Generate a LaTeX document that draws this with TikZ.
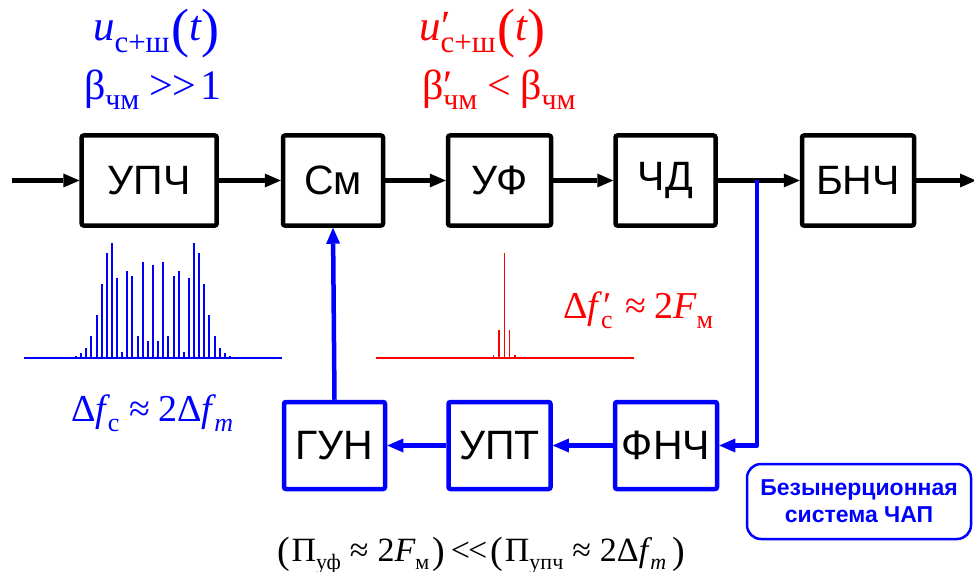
\documentclass[tikz,border=0pt]{standalone}
\usepackage{fontspec}
\setmainfont{Liberation Serif}
\newfontfamily\boxfont{Liberation Sans}
\usetikzlibrary{arrows.meta}
\newcommand\fs[1]{\fontsize{#1}{#1}\selectfont}
\tikzset{
  blk/.style={draw=black, line width=4.5pt, rounded corners=2pt, minimum height=90pt,
    inner sep=0pt, font=\boxfont\fs{41}},
  bblk/.style={blk, draw=blue, minimum height=87pt},
  arr/.style={line width=4.5pt, -{Triangle[length=16pt,width=14pt,line width=0pt]}},
  barr/.style={arr, draw=blue, line join=round},
  txt/.style={anchor=base west, inner sep=0pt, outer sep=0pt},
  specb/.style={draw=blue, line width=2pt},
  specr/.style={draw=red, line width=1.6pt},
}
\begin{document}
\begin{tikzpicture}[x=1pt,y=-1pt]
\useasboundingbox (0,0) rectangle (974,572);

% main chain
\node[blk, minimum width=135pt] (upc)  at (149.2,180.5) {УПЧ};
\node[blk, minimum width=100pt] (sm)   at (333,180.5) {См};
\node[blk, minimum width=103pt] (uf)   at (499.5,180.5) {УФ};
\node[blk, minimum width=100pt] (chd)  at (665.5,180.5) {ЧД};
\node[blk, minimum width=112pt] (bnch) at (858,180.5) {БНЧ};
\coordinate (in) at (12,180.5);
\coordinate (out) at (976,180.5);
\draw[arr] (in) -- (upc.west);
\draw[arr] (upc.east) -- (sm.west);
\draw[arr] (sm.east) -- (uf.west);
\draw[arr] (uf.east) -- (chd.west);
\draw[arr] (chd.east) -- (bnch.west);
\draw[arr] (bnch.east) -- (out);

% feedback loop
\node[bblk, minimum width=101pt] (gun)  at (334.5,445.5) {ГУН};
\node[bblk, minimum width=102pt] (upt)  at (499.5,445.5) {УПТ};
\node[bblk, minimum width=102pt] (fnch) at (666,445.5) {ФНЧ};
\coordinate (j) at (757,180.5);
\draw[barr] (j) |- (fnch.east);
\draw[barr] (fnch.west) -- (upt.east);
\draw[barr] (upt.west) -- (gun.east);
\draw[barr] (gun.north) -- (sm.south);

\node[draw=blue, line width=2.5pt, rounded corners=14pt, minimum width=224pt,
  minimum height=75pt, align=center, text=blue, inner sep=0pt,
  font=\boxfont\bfseries\fontsize{23}{27}\selectfont] (chap) at (859,501.5)
  {Безынерционная\\система ЧАП};

% blue spectrum
\draw[specb] (24,357.7) -- (282,357.7);
\foreach \k/\h in {0/92.3,1/16.7,2/95.3,3/22,4/81.7,5/86.7,6/5.7,7/79.3,8/115,
  9/104.3,10/73.3,11/42.7,12/21.7,13/9.3,14/4.3,15/1.7}{
  \draw[specb] (153+\k*5.13,357.7) -- ++(0,-\h);
  \draw[specb] (153-\k*5.13,357.7) -- ++(0,-\h);
}
% red spectrum
\draw[specr] (376,357.7) -- (634,357.7);
\foreach \k/\h in {0/105,1/27.7,2/3}{
  \draw[specr] (504.3+\k*5.33,357.7) -- ++(0,-\h);
  \draw[specr] (504.3-\k*5.33,357.7) -- ++(0,-\h);
}

% labels
\node[txt, text=blue] (t1) at (93,41)
  {{\fs{43}\itshape u}\raisebox{-12pt}{\fs{31}с+ш}\kern2pt\raisebox{-6pt}{\fs{54}(}{\fs{43}\itshape t}\raisebox{-6pt}{\fs{54})}};
\node[txt, text=blue] (b1) at (84,100)
  {{\fs{42}β}\raisebox{-10pt}{\fs{30}чм}\hspace{10pt}{\fs{42}>\kern-1pt>\kern5pt1}};

\node[txt, text=red] (t2) at (419,41)
  {{\fs{43}\itshape u\rlap{\upshape\kern1pt′}}\raisebox{-12pt}{\fs{31}с+ш}\kern2pt\raisebox{-6pt}{\fs{54}(}{\fs{43}\itshape t}\raisebox{-6pt}{\fs{54})}};
\node[txt, text=red] (b2) at (422,100)
  {{\fs{42}β\rlap{′}}\raisebox{-10pt}{\fs{30}чм}\hspace{10pt}{\fs{42}<\hspace{9pt}β}\raisebox{-10pt}{\fs{30}чм}};

\node[txt, text=red] (dfr) at (563,318)
  {\fs{38}Δ{\itshape f\rlap{\upshape\kern5pt′}}\kern3pt\raisebox{-10pt}{\fs{26}с}\kern5pt\hspace{8pt}≈\hspace{8pt}2{\itshape F}\raisebox{-10pt}{\fs{26}м}};
\node[txt, text=blue] (dfb) at (71,421)
  {\fs{38}Δ{\itshape f}\kern2pt\raisebox{-10pt}{\fs{26}с}\hspace{10pt}≈\hspace{8pt}2Δ{\itshape f}\kern2pt\raisebox{-10pt}{\fs{26}\itshape m}};

\node[txt] (band) at (277,561)
  {\fs{34}\raisebox{-2pt}{\fs{38}(}\kern2ptΠ\raisebox{-8pt}{\fs{22}уф}\hspace{9pt}≈\hspace{9pt}2{\itshape F}\raisebox{-8pt}{\fs{22}м}\kern3pt\raisebox{-2pt}{\fs{38})}\hspace{6pt}<\kern-2pt<\hspace{3pt}\raisebox{-2pt}{\fs{38}(}\kern2ptΠ\raisebox{-8pt}{\fs{22}упч}\hspace{9pt}≈\hspace{9pt}2Δ{\itshape f}\kern2pt\raisebox{-8pt}{\fs{22}\itshape m}\kern6pt\raisebox{-2pt}{\fs{38})}};
\end{tikzpicture}
\end{document}
